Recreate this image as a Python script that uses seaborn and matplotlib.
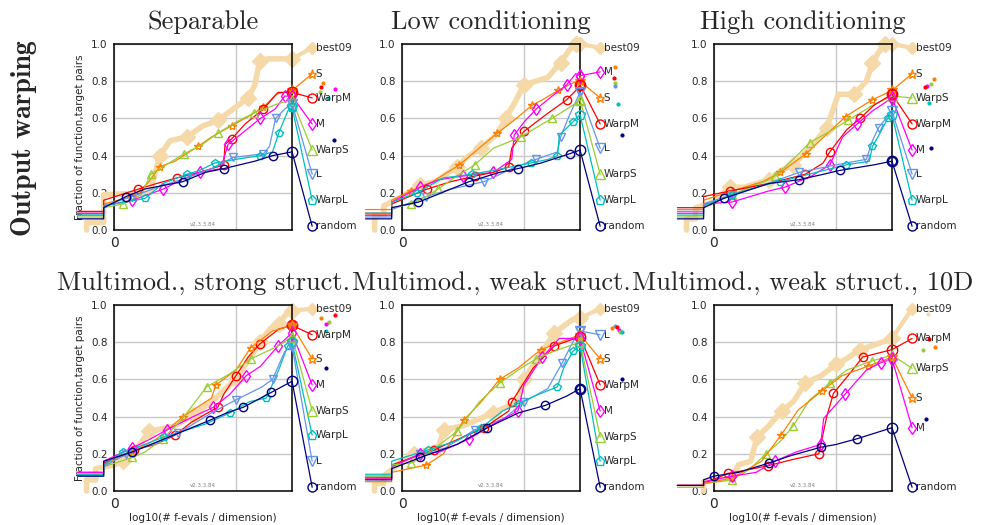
import matplotlib
matplotlib.use("Agg")
import matplotlib.pyplot as plt
import seaborn as sns

# x: log10(# f-evals / dimension), y: fraction of (function, target) pairs
# every curve is (x list, y list)

sep_curves = {
    "best09": ([-0.45, -0.45, -0.17, -0.17, 0.59, 0.75, 0.92, 1.19, 1.46, 1.71, 1.95, 2.2, 2.31, 2.39, 2.53, 2.92],
               [0.0, 0.04, 0.04, 0.19, 0.20, 0.40, 0.48, 0.50, 0.56, 0.59, 0.65, 0.71, 0.78, 0.91, 0.92, 0.92]),
    "S": ([-0.6, -0.17, -0.17, 0.3, 0.55, 0.75, 1.0, 1.38, 1.6, 1.93, 2.2, 2.45, 2.66, 2.92],
          [0.09, 0.09, 0.14, 0.18, 0.25, 0.34, 0.37, 0.45, 0.50, 0.56, 0.61, 0.66, 0.73, 0.75]),
    "WarpM": ([-0.6, -0.17, -0.17, 0.4, 0.7, 1.03, 1.4, 1.8, 1.82, 1.93, 2.15, 2.45, 2.69, 2.92],
              [0.10, 0.10, 0.16, 0.22, 0.25, 0.28, 0.31, 0.35, 0.46, 0.49, 0.57, 0.65, 0.74, 0.74]),
    "M": ([-0.6, -0.17, -0.17, 0.3, 0.55, 0.81, 1.1, 1.41, 1.75, 1.87, 2.1, 2.4, 2.64, 2.8, 2.92],
          [0.09, 0.09, 0.13, 0.16, 0.19, 0.22, 0.27, 0.31, 0.33, 0.46, 0.52, 0.60, 0.65, 0.72, 0.72]),
    "WarpS": ([-0.6, -0.17, -0.17, 0.15, 0.45, 0.6, 0.8, 1.15, 1.45, 1.7, 2.0, 2.3, 2.7, 2.92],
              [0.07, 0.07, 0.12, 0.14, 0.19, 0.30, 0.34, 0.41, 0.46, 0.52, 0.58, 0.63, 0.68, 0.70]),
    "L": ([-0.6, -0.17, -0.17, 0.3, 0.8, 1.2, 1.6, 1.95, 2.2, 2.45, 2.55, 2.65, 2.8, 2.92],
          [0.08, 0.08, 0.13, 0.18, 0.24, 0.28, 0.33, 0.39, 0.40, 0.41, 0.45, 0.60, 0.65, 0.68]),
    "WarpL": ([-0.6, -0.17, -0.17, 0.51, 0.8, 1.2, 1.4, 1.65, 2.0, 2.4, 2.6, 2.7, 2.85, 2.92],
              [0.08, 0.08, 0.13, 0.17, 0.25, 0.30, 0.32, 0.36, 0.38, 0.40, 0.42, 0.52, 0.64, 0.66]),
    "random": ([-0.6, -0.17, -0.17, 0.2, 0.5, 1.13, 1.5, 1.8, 2.31, 2.6, 2.92],
               [0.06, 0.06, 0.12, 0.18, 0.22, 0.26, 0.31, 0.33, 0.37, 0.40, 0.42]),
}
sep_labels = {"best09": 0.98, "S": 0.84, "WarpM": 0.71, "M": 0.57,
              "WarpS": 0.43, "L": 0.30, "WarpL": 0.16, "random": 0.02}
sep_dots = {"S": (3.43, 0.79), "WarpM": (3.39, 0.77), "WarpS": (3.38, 0.74),
            "WarpL": (3.51, 0.71), "M": (3.62, 0.76), "random": (3.60, 0.485)}

low_curves = {
    "best09": ([-0.45, -0.45, -0.3, -0.3, 0.0, 0.3, 0.55, 0.9, 1.1, 1.3, 1.57, 1.7, 1.84, 2.0, 2.39, 2.6, 2.75, 2.85, 2.92],
               [0.0, 0.08, 0.08, 0.13, 0.18, 0.24, 0.26, 0.34, 0.40, 0.44, 0.52, 0.60, 0.68, 0.78, 0.82, 0.90, 0.97, 1.0, 1.0]),
    "S": ([-0.6, -0.17, -0.17, 0.14, 0.5, 0.94, 1.3, 1.56, 1.8, 2.13, 2.3, 2.56, 2.8, 2.92],
          [0.11, 0.11, 0.16, 0.21, 0.26, 0.35, 0.45, 0.52, 0.58, 0.67, 0.70, 0.75, 0.79, 0.80]),
    "M": ([-0.6, -0.17, -0.17, 0.3, 0.6, 1.0, 1.25, 1.5, 1.8, 1.84, 2.0, 2.2, 2.5, 2.7, 2.85, 2.92],
          [0.09, 0.09, 0.15, 0.23, 0.27, 0.29, 0.30, 0.31, 0.38, 0.51, 0.58, 0.65, 0.73, 0.78, 0.84, 0.83]),
    "WarpM": ([-0.6, -0.17, -0.17, 0.41, 0.8, 1.2, 1.5, 1.75, 1.8, 2.0, 2.36, 2.7, 2.85, 2.92],
              [0.08, 0.08, 0.14, 0.22, 0.26, 0.29, 0.31, 0.34, 0.44, 0.53, 0.62, 0.70, 0.75, 0.78]),
    "L": ([-0.6, -0.17, -0.17, 0.4, 0.8, 1.35, 1.8, 2.2, 2.55, 2.6, 2.75, 2.92],
          [0.07, 0.07, 0.11, 0.18, 0.22, 0.26, 0.33, 0.38, 0.42, 0.50, 0.62, 0.74]),
    "WarpS": ([-0.6, -0.17, -0.17, 0.15, 0.4, 0.59, 0.9, 1.19, 1.5, 1.95, 2.2, 2.46, 2.8, 2.92],
              [0.09, 0.09, 0.12, 0.14, 0.18, 0.22, 0.29, 0.35, 0.44, 0.50, 0.55, 0.60, 0.67, 0.70]),
    "WarpL": ([-0.6, -0.17, -0.17, 0.25, 0.67, 1.15, 1.65, 2.11, 2.4, 2.55, 2.58, 2.8, 2.92],
              [0.09, 0.09, 0.15, 0.20, 0.28, 0.30, 0.33, 0.36, 0.38, 0.40, 0.51, 0.58, 0.62]),
    "random": ([-0.6, -0.17, -0.17, 0.27, 0.8, 1.1, 1.6, 1.9, 2.28, 2.75, 2.92],
               [0.06, 0.06, 0.12, 0.15, 0.22, 0.26, 0.31, 0.33, 0.36, 0.41, 0.43]),
}
low_labels = {"best09": 0.98, "M": 0.85, "S": 0.71, "WarpM": 0.57,
              "L": 0.44, "WarpS": 0.30, "WarpL": 0.16, "random": 0.02}
low_dots = {"S": (3.50, 0.875), "WarpM": (3.48, 0.815), "WarpS": (3.50, 0.79),
            "L": (3.50, 0.775), "WarpL": (3.55, 0.68), "random": (3.61, 0.51)}

high_curves = {
    "best09": ([-0.45, -0.45, -0.3, -0.3, 0.0, 0.26, 0.5, 0.9, 1.1, 1.3, 1.6, 1.85, 2.04, 2.3, 2.5, 2.6, 2.69, 2.8, 2.92],
               [0.0, 0.06, 0.06, 0.12, 0.15, 0.23, 0.23, 0.27, 0.32, 0.35, 0.45, 0.55, 0.73, 0.73, 0.80, 0.90, 0.95, 1.0, 1.0]),
    "S": ([-0.6, -0.17, -0.17, 0.3, 0.8, 1.09, 1.3, 1.51, 1.8, 2.16, 2.4, 2.6, 2.92],
          [0.11, 0.11, 0.16, 0.21, 0.26, 0.31, 0.36, 0.41, 0.50, 0.61, 0.66, 0.70, 0.75]),
    "WarpS": ([-0.6, -0.17, -0.17, 0.29, 0.9, 1.0, 1.3, 1.57, 1.9, 2.2, 2.6, 2.92],
              [0.07, 0.07, 0.12, 0.19, 0.27, 0.29, 0.38, 0.47, 0.53, 0.59, 0.67, 0.72]),
    "WarpM": ([-0.6, -0.17, -0.17, 0.27, 0.9, 1.5, 1.79, 1.9, 2.18, 2.4, 2.62, 2.92],
              [0.12, 0.12, 0.18, 0.21, 0.25, 0.30, 0.36, 0.42, 0.54, 0.60, 0.67, 0.73]),
    "M": ([-0.6, -0.17, -0.17, 0.29, 0.9, 1.16, 1.6, 1.9, 2.11, 2.35, 2.6, 2.92],
          [0.09, 0.09, 0.14, 0.15, 0.21, 0.23, 0.29, 0.35, 0.50, 0.57, 0.64, 0.71]),
    "L": ([-0.6, -0.17, -0.17, 0.3, 0.8, 1.4, 2.0, 2.5, 2.6, 2.7, 2.92],
          [0.10, 0.10, 0.14, 0.19, 0.24, 0.31, 0.35, 0.38, 0.48, 0.55, 0.64]),
    "WarpL": ([-0.6, -0.17, -0.17, 0.3, 0.8, 1.08, 1.68, 2.17, 2.55, 2.6, 2.69, 2.85, 2.92],
              [0.08, 0.08, 0.13, 0.19, 0.24, 0.26, 0.31, 0.35, 0.37, 0.45, 0.50, 0.60, 0.62]),
    "random": ([-0.6, -0.17, -0.17, 0.16, 0.9, 1.39, 1.8, 2.06, 2.62, 2.92],
               [0.06, 0.06, 0.12, 0.17, 0.25, 0.27, 0.30, 0.32, 0.35, 0.37]),
}
high_labels = {"best09": 0.98, "S": 0.84, "WarpS": 0.71, "WarpM": 0.57,
               "M": 0.43, "L": 0.30, "WarpL": 0.16, "random": 0.02}
high_dots = {"S": (3.61, 0.81), "WarpS": (3.56, 0.785), "M": (3.50, 0.775),
             "WarpM": (3.46, 0.77), "WarpL": (3.52, 0.685), "random": (3.56, 0.44)}

strong_curves = {
    "best09": ([-0.45, -0.45, -0.3, -0.3, 0.0, 0.15, 0.3, 0.58, 1.0, 1.3, 1.6, 2.0, 2.2, 2.4, 2.55, 2.7, 2.85, 2.92],
               [0.0, 0.06, 0.06, 0.12, 0.14, 0.16, 0.20, 0.32, 0.35, 0.41, 0.48, 0.60, 0.70, 0.80, 0.87, 0.90, 0.96, 0.97]),
    "WarpM": ([-0.6, -0.17, -0.17, 0.32, 0.68, 1.0, 1.27, 1.7, 1.8, 2.0, 2.2, 2.39, 2.7, 2.92],
              [0.10, 0.10, 0.15, 0.22, 0.25, 0.30, 0.37, 0.45, 0.52, 0.62, 0.72, 0.79, 0.87, 0.89]),
    "S": ([-0.6, -0.17, -0.17, 0.3, 0.7, 1.13, 1.6, 1.67, 2.0, 2.24, 2.6, 2.92],
          [0.09, 0.09, 0.14, 0.21, 0.28, 0.40, 0.50, 0.57, 0.65, 0.77, 0.86, 0.89]),
    "M": ([-0.6, -0.17, -0.17, 0.29, 0.6, 0.87, 1.3, 1.63, 1.9, 2.17, 2.4, 2.69, 2.92],
          [0.10, 0.10, 0.16, 0.23, 0.28, 0.33, 0.40, 0.45, 0.52, 0.62, 0.67, 0.78, 0.85]),
    "WarpS": ([-0.6, -0.17, -0.17, 0.3, 0.51, 0.8, 1.1, 1.52, 1.9, 2.24, 2.7, 2.92],
              [0.08, 0.08, 0.13, 0.18, 0.21, 0.28, 0.38, 0.56, 0.63, 0.71, 0.78, 0.83]),
    "WarpL": ([-0.6, -0.17, -0.17, 0.15, 0.5, 0.82, 1.5, 1.9, 2.22, 2.5, 2.7, 2.85, 2.92],
              [0.09, 0.09, 0.14, 0.21, 0.25, 0.29, 0.36, 0.42, 0.48, 0.50, 0.65, 0.78, 0.80]),
    "L": ([-0.6, -0.17, -0.17, 0.2, 0.7, 1.05, 1.6, 2.0, 2.43, 2.6, 2.8, 2.92],
          [0.08, 0.08, 0.13, 0.20, 0.26, 0.31, 0.42, 0.49, 0.56, 0.60, 0.75, 0.78]),
    "random": ([-0.6, -0.17, -0.17, 0.3, 0.9, 1.57, 1.85, 2.12, 2.35, 2.58, 2.92],
               [0.08, 0.08, 0.16, 0.21, 0.29, 0.38, 0.42, 0.45, 0.49, 0.53, 0.59]),
}
strong_labels = {"best09": 0.98, "WarpM": 0.84, "S": 0.71, "M": 0.57,
                 "WarpS": 0.43, "WarpL": 0.30, "L": 0.16, "random": 0.02}
strong_dots = {"S": (3.40, 0.93), "WarpM": (3.62, 0.946), "WarpS": (3.53, 0.907),
               "M": (3.47, 0.896), "WarpL": (3.47, 0.862), "random": (3.48, 0.663)}

weak_curves = {
    "best09": ([-0.45, -0.45, -0.3, -0.3, 0.0, 0.2, 0.6, 0.69, 1.0, 1.5, 1.9, 2.0, 2.3, 2.5, 2.79, 2.92],
               [0.0, 0.04, 0.04, 0.08, 0.16, 0.20, 0.24, 0.33, 0.35, 0.42, 0.48, 0.60, 0.75, 0.85, 0.92, 0.93]),
    "L": ([-0.6, -0.17, -0.17, 0.3, 0.7, 1.2, 1.68, 2.0, 2.39, 2.63, 2.8, 2.92],
          [0.08, 0.08, 0.13, 0.20, 0.23, 0.33, 0.39, 0.48, 0.55, 0.69, 0.80, 0.86]),
    "S": ([-0.6, -0.17, -0.17, 0.4, 0.68, 1.01, 1.3, 1.6, 1.9, 2.28, 2.6, 2.92],
          [0.05, 0.05, 0.10, 0.14, 0.20, 0.38, 0.48, 0.60, 0.66, 0.76, 0.80, 0.84]),
    "WarpM": ([-0.6, -0.17, -0.17, 0.52, 1.0, 1.35, 1.75, 1.8, 2.15, 2.5, 2.92],
              [0.07, 0.07, 0.14, 0.22, 0.29, 0.34, 0.43, 0.48, 0.66, 0.78, 0.83]),
    "M": ([-0.6, -0.17, -0.17, 0.3, 0.62, 1.1, 1.5, 1.9, 2.0, 2.3, 2.58, 2.92],
          [0.07, 0.07, 0.13, 0.20, 0.21, 0.28, 0.36, 0.43, 0.57, 0.72, 0.82, 0.82]),
    "WarpS": ([-0.6, -0.17, -0.17, 0.15, 0.5, 0.9, 1.27, 1.6, 1.95, 2.2, 2.48, 2.92],
              [0.08, 0.08, 0.14, 0.15, 0.22, 0.32, 0.48, 0.58, 0.66, 0.71, 0.75, 0.80]),
    "WarpL": ([-0.6, -0.17, -0.17, 0.42, 0.9, 1.3, 1.65, 1.9, 2.17, 2.55, 2.65, 2.8, 2.92],
              [0.09, 0.09, 0.16, 0.22, 0.27, 0.34, 0.43, 0.47, 0.51, 0.56, 0.66, 0.75, 0.78]),
    "random": ([-0.6, -0.17, -0.17, 0.3, 0.9, 1.4, 1.91, 2.35, 2.7, 2.92],
               [0.06, 0.06, 0.12, 0.18, 0.25, 0.34, 0.42, 0.46, 0.51, 0.55]),
}
weak_labels = {"best09": 0.98, "L": 0.84, "S": 0.71, "WarpM": 0.57,
               "M": 0.43, "WarpS": 0.29, "WarpL": 0.16, "random": 0.02}
weak_dots = {"S": (3.45, 0.878), "L": (3.49, 0.887), "WarpM": (3.53, 0.88),
             "M": (3.56, 0.866), "WarpS": (3.58, 0.857), "WarpL": (3.61, 0.857),
             "random": (3.61, 0.60)}

d10_curves = {
    "best09": ([-0.17, -0.17, 0.3, 0.4, 0.6, 0.71, 0.9, 1.11, 1.3, 1.5, 1.76, 2.0, 2.17, 2.4, 2.85, 2.92],
               [0.0, 0.05, 0.07, 0.14, 0.16, 0.29, 0.35, 0.43, 0.48, 0.58, 0.62, 0.68, 0.71, 0.76, 0.81, 0.82]),
    "WarpM": ([-0.6, -0.17, -0.17, 0.23, 0.5, 0.89, 1.3, 1.72, 1.85, 1.96, 2.2, 2.44, 2.92],
              [0.03, 0.03, 0.04, 0.095, 0.11, 0.136, 0.17, 0.20, 0.40, 0.525, 0.62, 0.72, 0.76]),
    "WarpS": ([-0.6, -0.17, -0.17, 0.3, 0.6, 0.85, 1.1, 1.3, 1.57, 1.9, 2.18, 2.6, 2.92],
              [0.02, 0.02, 0.04, 0.06, 0.12, 0.20, 0.27, 0.35, 0.49, 0.58, 0.65, 0.70, 0.73]),
    "S": ([-0.6, -0.17, -0.17, 0.3, 0.78, 1.1, 1.38, 1.78, 2.1, 2.52, 2.92],
          [0.03, 0.03, 0.04, 0.07, 0.16, 0.30, 0.435, 0.54, 0.62, 0.67, 0.72]),
    "M": ([-0.6, -0.17, -0.17, 0.3, 0.69, 1.0, 1.35, 1.75, 1.8, 2.15, 2.5, 2.74, 2.92],
          [0.03, 0.03, 0.05, 0.08, 0.10, 0.16, 0.21, 0.25, 0.39, 0.52, 0.65, 0.69, 0.71]),
    "random": ([-0.6, -0.17, -0.17, 0.0, 0.4, 0.9, 1.26, 1.75, 2.0, 2.34, 2.92],
               [0.03, 0.03, 0.06, 0.08, 0.10, 0.15, 0.19, 0.235, 0.25, 0.28, 0.34]),
}
d10_labels = {"best09": 0.98, "WarpM": 0.82, "WarpS": 0.66, "S": 0.50,
              "M": 0.34, "random": 0.02}
d10_dots = {"best09": (3.51, 0.95), "WarpM": (3.53, 0.817), "WarpS": (3.43, 0.76),
            "S": (3.62, 0.776), "random": (3.47, 0.385)}

titles = ["Separable", "Low conditioning", "High conditioning",
          "Multimod., strong struct.", "Multimod., weak struct.",
          "Multimod., weak struct., 10D"]

colors = {"best09": "#f5d9a8", "S": "#ff7f00", "WarpM": "#ff0000", "M": "#ff00ff",
          "WarpS": "#9acd32", "L": "#6495ed", "WarpL": "#00bfbf", "random": "#000080"}
markers = {"best09": "D", "S": "*", "WarpM": "o", "M": "d",
           "WarpS": "^", "L": "v", "WarpL": "p", "random": "o"}

LABEL_X = 3.25
XMAX = 2.92


def draw_panel(ax, curves, labels, dots):
    for name, (x, y) in curves.items():
        c = colors[name]
        ref = name == "best09"
        sns.lineplot(x=x, y=y, ax=ax, sort=False, estimator=None, color=c,
                     linewidth=4 if ref else 0.9, marker=markers[name],
                     markersize=8 if ref else 6,
                     markerfacecolor=c if ref else "none", markeredgecolor=c,
                     markeredgewidth=1, markevery=slice(5 if ref else 3, None, 2),
                     clip_on=False, zorder=1 if ref else 3)
        # line from the end of the curve to its label
        ax.plot([x[-1], LABEL_X], [y[-1], labels[name]], color=c,
                lw=3 if ref else 0.9, clip_on=False, zorder=1 if ref else 3)
        for px, py, ms in [(x[-1], y[-1], 7.5), (LABEL_X, labels[name], 6.5)]:
            ax.plot([px], [py], marker=markers[name], ms=ms, color=c,
                    mfc=c if ref else "none", mec=c, mew=1, clip_on=False,
                    zorder=1 if ref else 4)
        ax.text(LABEL_X + 0.06, labels[name], name, fontsize=7.5,
                ha="left", va="center")
    for name, (dx, dy) in dots.items():
        ax.plot([dx], [dy], "o", ms=2, color=colors[name], clip_on=False)

    ax.set_xlim(0, XMAX)
    ax.set_ylim(0, 1)
    ax.set_xticks([0, 2])
    ax.set_xticklabels(["0", ""], fontsize=10)
    ax.set_yticks([0, 0.2, 0.4, 0.6, 0.8, 1.0])
    ax.set_yticklabels(["0.0", "0.2", "0.4", "0.6", "0.8", "1.0"], fontsize=7.5)
    ax.tick_params(length=3, width=0.8, pad=1.5)
    ax.grid(True, color="#c8c8c8", lw=1)
    for sp in ax.spines.values():
        sp.set_color("black")
        sp.set_linewidth(1.1)
    ax.text(0.5, 0.03, "v2.3.3.84", transform=ax.transAxes, fontsize=4,
            color="gray", ha="center", va="center")


sns.set_style("white")
fig = plt.figure(figsize=(9.89, 5.25), dpi=100)

panels = [sep_curves, low_curves, high_curves, strong_curves, weak_curves, d10_curves]
panel_labels = [sep_labels, low_labels, high_labels, strong_labels, weak_labels, d10_labels]
panel_dots = [sep_dots, low_dots, high_dots, strong_dots, weak_dots, d10_dots]

lefts = [0.1153, 0.4065, 0.7219]
bottoms = [0.5619, 0.0648]
for i in range(6):
    row, col = divmod(i, 3)
    ax = fig.add_axes([lefts[col], bottoms[row], 0.18, 0.3543])
    draw_panel(ax, panels[i], panel_labels[i], panel_dots[i])
    ax.set_title(titles[i], fontsize=19, fontfamily="cmr10", pad=11)
    if col == 0:
        ax.set_ylabel("Fraction of function,target pairs", fontsize=7.5)
        ax.yaxis.set_label_coords(-0.165, 0.5)
    if row == 1:
        ax.set_xlabel("log10(# f-evals / dimension)", fontsize=7.5, labelpad=1)

fig.text(0.024, 0.737, "Output warping", rotation=90, fontfamily="cmb10",
         fontsize=20, ha="center", va="center")

fig.savefig("out.png", dpi=100)
